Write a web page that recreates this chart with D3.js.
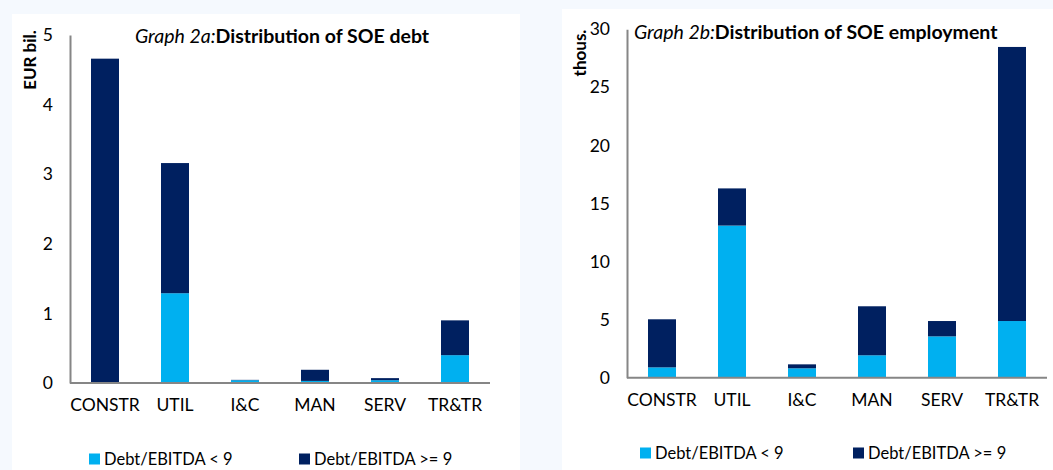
<!DOCTYPE html>
<html>
<head>
<meta charset="utf-8">
<script src="https://cdn.jsdelivr.net/npm/d3@7"></script>
<style>
  html, body { margin: 0; padding: 0; background: #f5f9fe; }
  svg { display: block; }
  text { font-family: Lato, "Open Sans", sans-serif; fill: #000; }
</style>
</head>
<body>
<svg id="chart" width="1053" height="470"></svg>
<script>
// Sectors shown on both panels
const categories = ["CONSTR", "UTIL", "I&C", "MAN", "SERV", "TR&TR"];
const seriesNames = ["Debt/EBITDA < 9", "Debt/EBITDA >= 9"];

// Graph 2a: SOE debt, EUR bil.
const debtLow  = [0.00, 1.29, 0.04, 0.03, 0.04, 0.40];
const debtHigh = [4.66, 1.87, 0.005, 0.16, 0.03, 0.50];
const debtTicks = [0, 1, 2, 3, 4, 5];

// Graph 2b: SOE employment, thousands
const empLow  = [0.89, 13.1, 0.81, 1.93, 3.56, 4.88];
const empHigh = [4.14, 3.2, 0.34, 4.22, 1.32, 23.6];
const empTicks = [0, 5, 10, 15, 20, 25, 30];

const colors = ["#00b0f0", "#002060"];

const svg = d3.select("#chart");

// white chart panels on the pale page background
svg.append("rect").attr("x", 12).attr("y", 14).attr("width", 508).attr("height", 456).attr("fill", "#fff");
svg.append("rect").attr("x", 562).attr("y", 9).attr("width", 491).attr("height", 461).attr("fill", "#fff");

function drawPanel(opt) {
  const g = svg.append("g");
  const x = d3.scaleBand().domain(categories).range([opt.x0, opt.x1])
    .paddingInner(0.6).paddingOuter(0.3);
  const y = d3.scaleLinear().domain([0, opt.max]).range([opt.y0, opt.y1]);

  const rows = categories.map((c, i) => ({ cat: c, low: opt.low[i], high: opt.high[i] }));
  const stacked = d3.stack().keys(["low", "high"])(rows);

  stacked.forEach((layer, li) => {
    g.append("g").selectAll("rect").data(layer).join("rect")
      .attr("x", d => x(d.data.cat))
      .attr("width", x.bandwidth())
      .attr("y", d => y(d[1]))
      .attr("height", d => Math.max(0, y(d[0]) - y(d[1])))
      .attr("fill", colors[li]);
  });

  // value axis: line plus labels, no tick marks
  const yAxis = d3.axisLeft(y).tickValues(opt.ticks).tickSize(0).tickPadding(opt.tickPad)
    .tickFormat(d3.format("d"));
  const ya = g.append("g").attr("transform", `translate(${opt.x0},0)`).call(yAxis);
  ya.select(".domain").attr("stroke", "#868686").attr("stroke-width", 2);
  ya.selectAll("text").style("font-family", "Lato, 'Open Sans', sans-serif")
    .style("font-size", "17.5px").attr("fill", "#000");

  // category axis
  const xAxis = d3.axisBottom(x).tickSize(0).tickPadding(opt.catPad);
  const xa = g.append("g").attr("transform", `translate(0,${opt.y0})`).call(xAxis);
  xa.select(".domain").attr("stroke", "#868686").attr("stroke-width", 2)
    .attr("d", `M${opt.x0},0H${opt.x1}`);
  xa.selectAll("text").style("font-family", "Lato, 'Open Sans', sans-serif")
    .style("font-size", "17.5px").attr("fill", "#000");

  // title: italic lead-in followed by bold text
  const t = g.append("text").attr("x", opt.titleX).attr("y", opt.titleY).style("font-size", "19.5px");
  t.append("tspan").style("font-style", "italic").text(opt.titleLead);
  t.append("tspan").style("font-weight", "bold").text(opt.titleMain);

  // unit label
  g.append("text")
    .attr("transform", `translate(${opt.unitX},${opt.unitY}) rotate(-90)`)
    .attr("text-anchor", "middle")
    .style("font-weight", "bold").style("font-size", "17px")
    .text(opt.unit);

  // legend
  seriesNames.forEach((name, i) => {
    const lx = opt.legendX[i];
    g.append("rect").attr("x", lx).attr("y", opt.legendY - 5.5)
      .attr("width", 11).attr("height", 11).attr("fill", colors[i]);
    g.append("text").attr("x", lx + 15).attr("y", opt.legendY)
      .attr("dy", "0.35em").style("font-size", "16.5px").text(name);
  });
}

drawPanel({
  x0: 70, x1: 490, y0: 383, y1: 35, max: 5,
  low: debtLow, high: debtHigh, ticks: debtTicks,
  tickPad: 17, catPad: 16,
  titleX: 135, titleY: 43, titleLead: "Graph 2a:", titleMain: "Distribution of SOE debt",
  unit: "EUR bil.", unitX: 36, unitY: 60,
  legendX: [89, 299], legendY: 459
});

drawPanel({
  x0: 627, x1: 1047, y0: 377.7, y1: 29.3, max: 30,
  low: empLow, high: empHigh, ticks: empTicks,
  tickPad: 17, catPad: 16,
  titleX: 634, titleY: 39, titleLead: "Graph 2b:", titleMain: "Distribution of SOE employment",
  unit: "thous.", unitX: 586, unitY: 53,
  legendX: [640, 853], legendY: 453
});
</script>
</body>
</html>
